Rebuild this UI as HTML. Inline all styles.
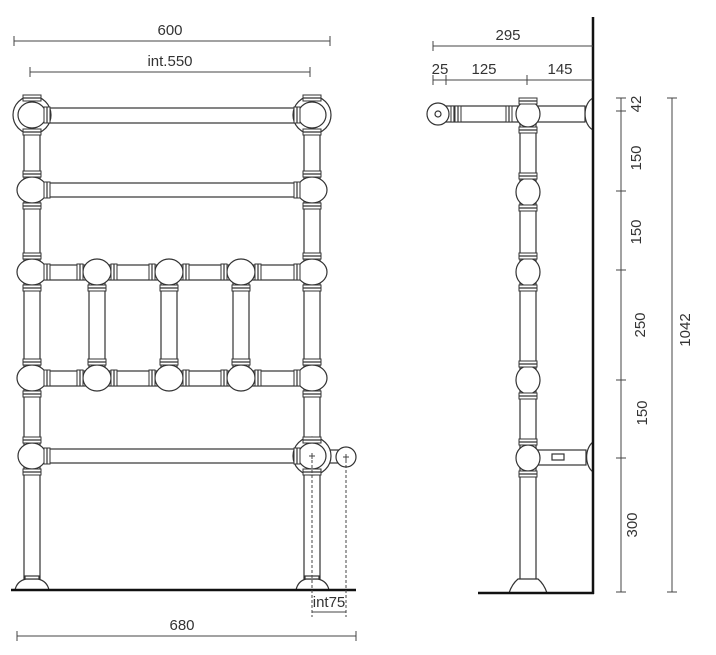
<!DOCTYPE html>
<html><head><meta charset="utf-8"><style>
html,body{margin:0;padding:0;background:#fff;}
svg{display:block;}
text{font-family:"Liberation Sans",sans-serif;font-size:15px;fill:#333;}
</style></head><body>
<svg width="716" height="655" viewBox="0 0 716 655" xmlns="http://www.w3.org/2000/svg">
<defs>
<g id="collarV"><rect x="-9" y="-3" width="18" height="6" fill="#fff" stroke="#333" stroke-width="1"/><line x1="-9" y1="0" x2="9" y2="0" stroke="#333"/></g>
<g id="collarH"><rect x="-3" y="-8" width="6" height="16" fill="#fff" stroke="#333" stroke-width="1"/><line x1="0" y1="-8" x2="0" y2="8" stroke="#333"/></g>
</defs>
<g fill="#fff" stroke="#333" stroke-width="1.2">
<rect x="24" y="115" width="16" height="470"/>
<rect x="304" y="115" width="16" height="470"/>
<rect x="40" y="108" width="264" height="15"/>
<rect x="40" y="183" width="264" height="14"/>
<rect x="40" y="265" width="264" height="15"/>
<rect x="40" y="371" width="264" height="15"/>
<rect x="40" y="449" width="264" height="14"/>
<rect x="89" y="272" width="16" height="106"/>
<rect x="161" y="272" width="16" height="106"/>
<rect x="233" y="272" width="16" height="106"/>
<rect x="320" y="450" width="27" height="13"/>
<circle cx="346" cy="457" r="10"/>
<circle cx="32" cy="115" r="19"/>
<circle cx="312" cy="115" r="19"/>
<circle cx="312" cy="456" r="19"/>
<ellipse cx="32" cy="115" rx="14" ry="13"/><ellipse cx="312" cy="115" rx="14" ry="13"/>
<ellipse cx="32" cy="190" rx="15" ry="13"/><ellipse cx="312" cy="190" rx="15" ry="13"/>
<ellipse cx="32" cy="272" rx="15" ry="13"/><ellipse cx="312" cy="272" rx="15" ry="13"/>
<ellipse cx="32" cy="378" rx="15" ry="13"/><ellipse cx="312" cy="378" rx="15" ry="13"/>
<ellipse cx="32" cy="456" rx="14" ry="13"/><ellipse cx="312" cy="456" rx="14" ry="13"/>
<ellipse cx="97" cy="272" rx="14" ry="13"/><ellipse cx="169" cy="272" rx="14" ry="13"/><ellipse cx="241" cy="272" rx="14" ry="13"/>
<ellipse cx="97" cy="378" rx="14" ry="13"/><ellipse cx="169" cy="378" rx="14" ry="13"/><ellipse cx="241" cy="378" rx="14" ry="13"/>
<use href="#collarV" x="32" y="98"/><use href="#collarV" x="312" y="98"/>
<use href="#collarV" x="32" y="132"/><use href="#collarV" x="312" y="132"/>
<use href="#collarV" x="32" y="174"/><use href="#collarV" x="312" y="174"/>
<use href="#collarV" x="32" y="206"/><use href="#collarV" x="312" y="206"/>
<use href="#collarV" x="32" y="256"/><use href="#collarV" x="312" y="256"/>
<use href="#collarV" x="32" y="288"/><use href="#collarV" x="312" y="288"/>
<use href="#collarV" x="32" y="362"/><use href="#collarV" x="312" y="362"/>
<use href="#collarV" x="32" y="394"/><use href="#collarV" x="312" y="394"/>
<use href="#collarV" x="32" y="440"/><use href="#collarV" x="312" y="440"/>
<use href="#collarV" x="32" y="472"/><use href="#collarV" x="312" y="472"/>
<use href="#collarV" x="97" y="288"/><use href="#collarV" x="169" y="288"/><use href="#collarV" x="241" y="288"/>
<use href="#collarV" x="97" y="362"/><use href="#collarV" x="169" y="362"/><use href="#collarV" x="241" y="362"/>
<use href="#collarH" x="47" y="115"/><use href="#collarH" x="297" y="115"/>
<use href="#collarH" x="47" y="190"/><use href="#collarH" x="297" y="190"/>
<use href="#collarH" x="47" y="272"/><use href="#collarH" x="297" y="272"/>
<use href="#collarH" x="80" y="272"/><use href="#collarH" x="114" y="272"/>
<use href="#collarH" x="152" y="272"/><use href="#collarH" x="186" y="272"/>
<use href="#collarH" x="224" y="272"/><use href="#collarH" x="258" y="272"/>
<use href="#collarH" x="47" y="378"/><use href="#collarH" x="297" y="378"/>
<use href="#collarH" x="80" y="378"/><use href="#collarH" x="114" y="378"/>
<use href="#collarH" x="152" y="378"/><use href="#collarH" x="186" y="378"/>
<use href="#collarH" x="224" y="378"/><use href="#collarH" x="258" y="378"/>
<use href="#collarH" x="47" y="456"/><use href="#collarH" x="297" y="456"/>
<path d="M15 590 Q17 581 26 579 L38 579 Q47 581 49 590 Z"/>
<path d="M296 590 Q298 581 306 579 L318 579 Q327 581 329 590 Z"/>
<rect x="25" y="576" width="14" height="3"/>
<rect x="305" y="576" width="14" height="3"/>

<!-- SIDE VIEW -->
<rect x="520" y="112" width="16" height="470"/>
<rect x="440" y="106" width="145" height="16"/>
<circle cx="438" cy="114" r="11"/>
<circle cx="438" cy="114" r="3"/>
<path d="M593 98 A12 17 0 0 0 593 130 Z"/>
<rect x="536" y="450" width="50" height="15"/>
<rect x="552" y="454" width="12" height="6"/>
<path d="M593 442 A12 17 0 0 0 593 472 Z"/>
<ellipse cx="528" cy="114" rx="12" ry="13"/>
<ellipse cx="528" cy="192" rx="12" ry="14"/>
<ellipse cx="528" cy="272" rx="12" ry="14"/>
<ellipse cx="528" cy="380" rx="12" ry="14"/>
<ellipse cx="528" cy="458" rx="12" ry="13"/>
<use href="#collarH" x="454" y="114"/><use href="#collarH" x="458" y="114"/>
<use href="#collarH" x="509" y="114"/>
<use href="#collarV" x="528" y="101"/><use href="#collarV" x="528" y="130"/>
<use href="#collarV" x="528" y="176"/><use href="#collarV" x="528" y="208"/>
<use href="#collarV" x="528" y="256"/><use href="#collarV" x="528" y="288"/>
<use href="#collarV" x="528" y="364"/><use href="#collarV" x="528" y="396"/>
<use href="#collarV" x="528" y="442"/><use href="#collarV" x="528" y="474"/>
<path d="M509 593 Q512 584 518 579 L538 579 Q544 584 547 593 Z"/>
</g>

<g stroke="#111" fill="none">
<line x1="11" y1="590" x2="356" y2="590" stroke-width="2.5"/>
<line x1="593" y1="17" x2="593" y2="594" stroke-width="2.5"/>
<line x1="478" y1="593" x2="594" y2="593" stroke-width="2.5"/>
</g>

<g stroke="#444" stroke-width="1" fill="none">
<line x1="14" y1="41" x2="330" y2="41"/><line x1="14" y1="36" x2="14" y2="46"/><line x1="330" y1="36" x2="330" y2="46"/>
<line x1="30" y1="72" x2="310" y2="72"/><line x1="30" y1="67" x2="30" y2="77"/><line x1="310" y1="67" x2="310" y2="77"/>
<line x1="17" y1="636" x2="356" y2="636"/><line x1="17" y1="631" x2="17" y2="641"/><line x1="356" y1="631" x2="356" y2="641"/>
<line x1="312" y1="460" x2="312" y2="617" stroke-dasharray="3,2"/>
<line x1="346" y1="460" x2="346" y2="617" stroke-dasharray="3,2"/>
<line x1="312" y1="612" x2="346" y2="612"/>
<line x1="309" y1="456" x2="315" y2="456"/><line x1="312" y1="453" x2="312" y2="459"/>
<line x1="343" y1="457" x2="349" y2="457"/><line x1="346" y1="454" x2="346" y2="460"/>
<line x1="433" y1="46" x2="593" y2="46"/><line x1="433" y1="41" x2="433" y2="51"/>
<line x1="433" y1="80" x2="593" y2="80"/>
<line x1="433" y1="75" x2="433" y2="85"/><line x1="446" y1="75" x2="446" y2="85"/><line x1="527" y1="75" x2="527" y2="85"/>
<line x1="621" y1="98" x2="621" y2="592"/>
<line x1="616" y1="98" x2="626" y2="98"/><line x1="616" y1="111" x2="626" y2="111"/>
<line x1="616" y1="191" x2="626" y2="191"/><line x1="616" y1="270" x2="626" y2="270"/>
<line x1="616" y1="380" x2="626" y2="380"/><line x1="616" y1="458" x2="626" y2="458"/>
<line x1="616" y1="592" x2="626" y2="592"/>
<line x1="672" y1="98" x2="672" y2="592"/>
<line x1="667" y1="98" x2="677" y2="98"/><line x1="667" y1="592" x2="677" y2="592"/>
</g>

<g>
<text x="170" y="35" text-anchor="middle">600</text>
<text x="170" y="66" text-anchor="middle">int.550</text>
<text x="182" y="630" text-anchor="middle">680</text>
<text x="329" y="607" text-anchor="middle">int75</text>
<text x="508" y="40" text-anchor="middle">295</text>
<text x="440" y="74" text-anchor="middle">25</text>
<text x="484" y="74" text-anchor="middle">125</text>
<text x="560" y="74" text-anchor="middle">145</text>
<text transform="translate(641,104) rotate(-90)" text-anchor="middle">42</text>
<text transform="translate(641,158) rotate(-90)" text-anchor="middle">150</text>
<text transform="translate(641,232) rotate(-90)" text-anchor="middle">150</text>
<text transform="translate(645,325) rotate(-90)" text-anchor="middle">250</text>
<text transform="translate(647,413) rotate(-90)" text-anchor="middle">150</text>
<text transform="translate(637,525) rotate(-90)" text-anchor="middle">300</text>
<text transform="translate(690,330) rotate(-90)" text-anchor="middle">1042</text>
</g>
</svg>
</body></html>
